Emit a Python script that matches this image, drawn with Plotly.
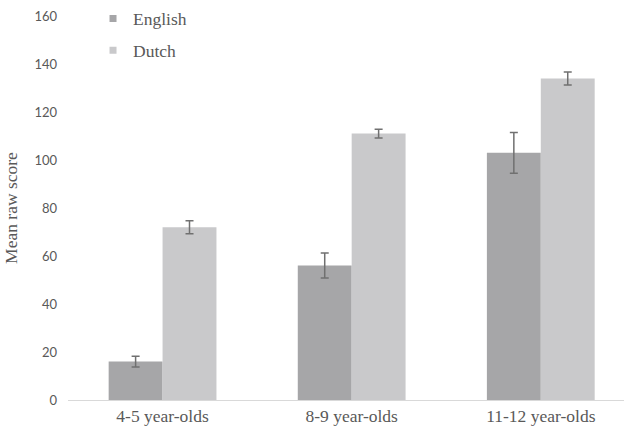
import plotly.graph_objects as go

# Mean raw scores by age group and language, with error bars
age_groups = ["4-5 year-olds", "8-9 year-olds", "11-12 year-olds"]
english_scores = [16, 56, 103]
english_err = [2.2, 5.2, 8.5]
dutch_scores = [72, 111, 134]
dutch_err = [2.7, 1.8, 2.7]

english_color = "#A6A6A8"
dutch_color = "#C9C9CB"
err_color = "#707070"
serif = "Liberation Serif"
text_color = "#595959"

fig = go.Figure()
for name, vals, errs, col in [
    ("English", english_scores, english_err, english_color),
    ("Dutch", dutch_scores, dutch_err, dutch_color),
]:
    fig.add_trace(go.Bar(
        x=age_groups, y=vals, name=name, marker_color=col,
        marker_line_width=0, showlegend=False,
        error_y=dict(type="data", array=errs, color=err_color,
                     thickness=1.5, width=4),
    ))
    # square legend swatch
    fig.add_trace(go.Scatter(
        x=[None], y=[None], mode="markers", name=name,
        marker=dict(symbol="square", size=7, color=col),
        legendgroup=name,
    ))

fig.update_layout(
    width=624, height=431,
    margin=dict(l=68, r=0, t=16, b=31),
    paper_bgcolor="white", plot_bgcolor="white",
    barmode="group", bargap=0.43, bargroupgap=0,
    font=dict(family=serif, size=17.5, color=text_color),
    showlegend=True,
    legend=dict(
        x=0.045, y=1.04, xanchor="left", yanchor="top",
        xref="paper", yref="paper",
        font=dict(family=serif, size=17.5, color=text_color),
        bgcolor="rgba(0,0,0,0)", tracegroupgap=6,
        itemwidth=30,
    ),
    xaxis=dict(
        type="category", range=[-0.5, 2.44],
        showline=True, linecolor="#D9D9D9", linewidth=1,
        ticks="", showgrid=False, zeroline=False,
        tickfont=dict(family=serif, size=17.5, color=text_color),
    ),
    yaxis=dict(
        range=[0, 160], tickvals=[0, 20, 40, 60, 80, 100, 120, 140, 160],
        showgrid=False, zeroline=False, showline=False, ticks="",
        ticklabelstandoff=10,
        tickfont=dict(family="Lato", size=13, color=text_color),
        title=dict(text="Mean raw score", standoff=12,
                   font=dict(family=serif, size=17.5, color=text_color)),
    ),
)

fig.write_html("out.html")
